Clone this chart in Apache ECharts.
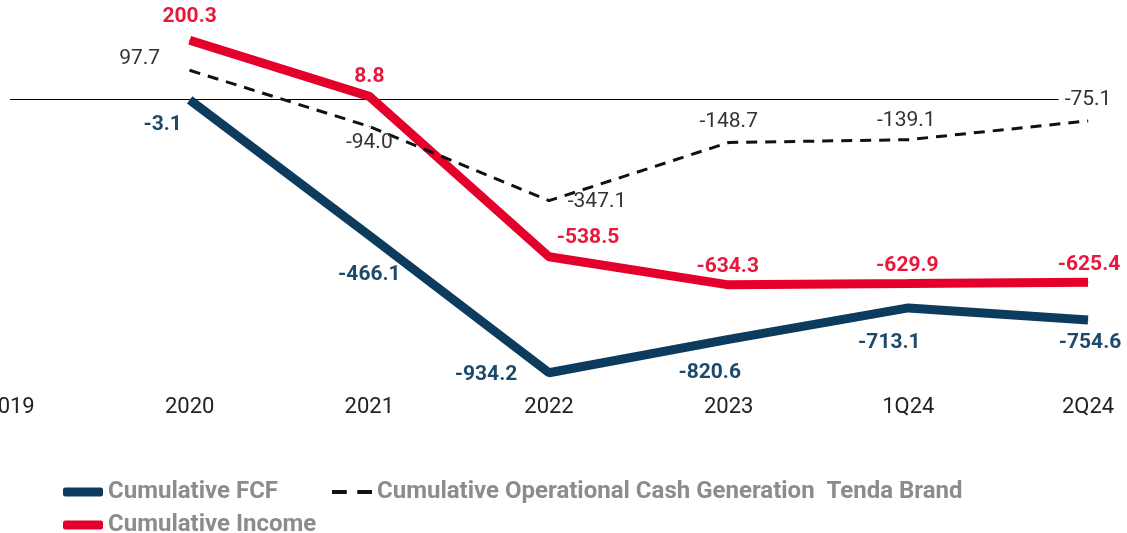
<!DOCTYPE html>
<html>
<head>
<meta charset="utf-8">
<script src="https://cdn.jsdelivr.net/npm/echarts@6/dist/echarts.min.js"></script>
<style>
  html, body { margin: 0; padding: 0; background: #fff; }
  #chart { width: 1127px; height: 533px; }
</style>
</head>
<body>
<div id="chart"></div>
<script>
const categories = ["2019", "2020", "2021", "2022", "2023", "1Q24", "2Q24"];

const cumulativeFcf = [null, -3.1, -466.1, -934.2, -820.6, -713.1, -754.6];
const cumulativeIncome = [null, 200.3, 8.8, -538.5, -634.3, -629.9, -625.4];
const cumulativeOpCash = [null, 97.7, -94.0, -347.1, -148.7, -139.1, -75.1];

// label offsets (px) from each point
const fcfLabelOffsets = [null, [-27, 25], [0, 39], [-63, 2], [-19, 33], [-19, 35], [2, 23]];
const incomeLabelOffsets = [null, [0, -23], [0, -20], [39, -19], [-1, -18], [-1, -18], [1, -17]];
const opCashLabelOffsets = [null, [-50, -12], [0, 16], [48, 1], [0, -21], [-2, -19], [0, -21]];

const FONT = "Roboto";
const NAVY = "#0c3b5d";
const RED = "#e4002b";

const withLabels = (values, offsets, extra) =>
  values.map((v, i) =>
    v === null
      ? null
      : { value: v, label: Object.assign({ offset: offsets[i] }, extra ? extra(i) : {}) }
  );

const chart = echarts.init(document.getElementById("chart"));

const legendText = { color: "#8c8c8c", fontFamily: FONT, fontSize: 24, fontWeight: "bold" };

const option = {
  animation: false,
  grid: { left: 10, right: 39, top: 11, bottom: 141, outerBoundsMode: "none", containLabel: false },
  xAxis: {
    type: "category",
    boundaryGap: false,
    data: categories,
    axisLine: { show: false },
    axisTick: { show: false },
    splitLine: { show: false },
    axisLabel: {
      color: "#222",
      fontFamily: FONT,
      fontSize: 22,
      margin: 4,
      showMinLabel: true,
      hideOverlap: false,
    },
  },
  yAxis: {
    type: "value",
    min: -1000,
    max: 300,
    show: false,
  },
  legend: [
    {
      left: 58,
      top: 475,
      itemWidth: 40,
      itemHeight: 9,
      itemGap: 54,
      selectedMode: false,
      textStyle: legendText,
      data: [
        { name: "Cumulative FCF", icon: "roundRect", itemStyle: { color: NAVY } },
        {
          name: "Cumulative Operational Cash Generation  Tenda Brand",
          icon: "path://M0,0h14v4h-14z M24,0h14v4h-14z",
          itemStyle: { color: "#111" },
        },
      ],
    },
    {
      left: 58,
      top: 508,
      itemWidth: 40,
      itemHeight: 9,
      selectedMode: false,
      textStyle: legendText,
      data: [{ name: "Cumulative Income", icon: "roundRect", itemStyle: { color: RED } }],
    },
  ],
  series: [
    {
      name: "Cumulative FCF",
      type: "line",
      z: 2,
      symbol: "circle",
      symbolSize: 1,
      itemStyle: { color: NAVY },
      lineStyle: { color: NAVY, width: 9 },
      label: {
        show: true,
        position: "inside",
        color: "#1d4a6b",
        fontFamily: FONT,
        fontSize: 21,
        fontWeight: "bold",
      },
      markLine: {
        silent: true,
        z: 1,
        symbol: "none",
        label: { show: false },
        lineStyle: { color: "#000", width: 1.2, type: "solid" },
        data: [{ yAxis: 0 }],
      },
      data: withLabels(cumulativeFcf, fcfLabelOffsets),
    },
    {
      name: "Cumulative Income",
      type: "line",
      z: 3,
      symbol: "circle",
      symbolSize: 1,
      itemStyle: { color: RED },
      lineStyle: { color: RED, width: 9 },
      label: {
        show: true,
        position: "inside",
        color: "#e8173c",
        fontFamily: FONT,
        fontSize: 21,
        fontWeight: "bold",
      },
      data: withLabels(cumulativeIncome, incomeLabelOffsets),
    },
    {
      name: "Cumulative Operational Cash Generation  Tenda Brand",
      type: "line",
      z: 4,
      symbol: "circle",
      symbolSize: 1,
      itemStyle: { color: "#111" },
      lineStyle: { color: "#111", width: 3, type: [11, 8] },
      label: {
        show: true,
        position: "inside",
        color: "#333",
        fontFamily: FONT,
        fontSize: 21,
        formatter: (p) => p.value.toFixed(1),
      },
      data: withLabels(cumulativeOpCash, opCashLabelOffsets, (i) =>
        i === cumulativeOpCash.length - 1 ? { backgroundColor: "#fff", padding: [0, 6] } : {}
      ),
    },
  ],
};

chart.setOption(option);
</script>
</body>
</html>
